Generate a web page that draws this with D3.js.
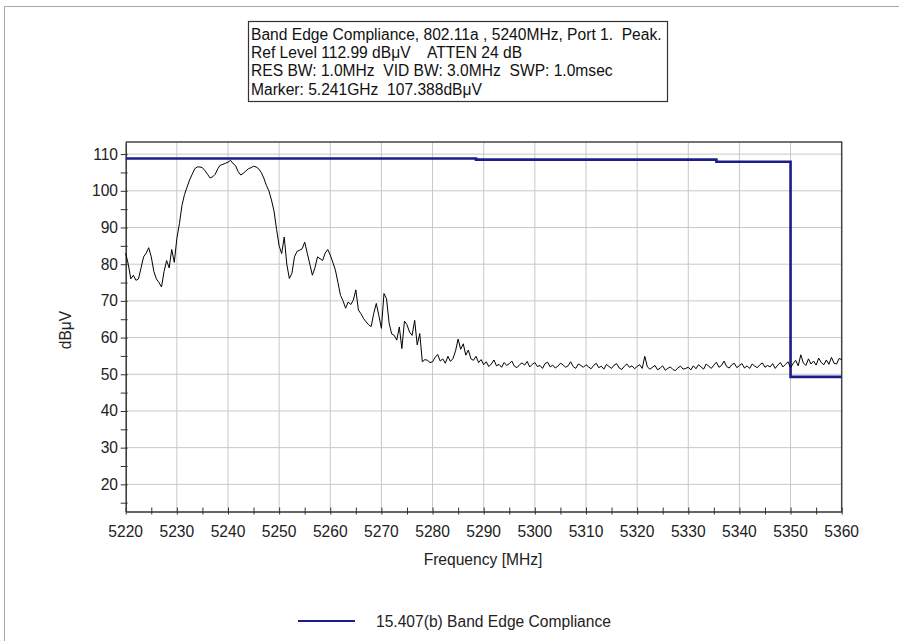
<!DOCTYPE html>
<html>
<head>
<meta charset="utf-8">
<script src="https://cdn.jsdelivr.net/npm/d3@7"></script>
<style>
  html, body { margin: 0; padding: 0; background: #fff; }
  svg { display: block; font-family: "Liberation Sans", Arial, sans-serif; }
  text { white-space: pre; }
</style>
</head>
<body>
<svg id="chart" width="899" height="641"></svg>
<script>
// ---- data ----
const titleLines = [
  "Band Edge Compliance, 802.11a , 5240MHz, Port 1.  Peak.",
  "Ref Level 112.99 dB\u03bcV    ATTEN 24 dB",
  "RES BW: 1.0MHz  VID BW: 3.0MHz  SWP: 1.0msec",
  "Marker: 5.241GHz  107.388dB\u03bcV"
];
const xTicks = [5220, 5230, 5240, 5250, 5260, 5270, 5280, 5290, 5300, 5310, 5320, 5330, 5340, 5350, 5360];
const yTicks = [20, 30, 40, 50, 60, 70, 80, 90, 100, 110];
const traceStart = 5220;   // MHz
const traceStep = 0.5;     // MHz between samples
const traceLevels = [
  83, 80, 76, 77, 75.6, 76, 79, 82, 83, 84.5, 82, 78, 76, 75, 73.8, 78, 81, 79, 84, 80.5,
  87, 91, 96, 99, 101, 103, 104.5, 106, 106.5, 106.5, 106.3, 105.5, 104.5, 103.5, 103.8, 104.5, 106, 107, 107.2, 107.5,
  107.8, 108.3, 107.4, 106.8, 105.2, 104.3, 104.8, 105.4, 106, 106.3, 106.7, 106.5, 106, 105, 103.5, 101.5, 100, 97.5, 94.5, 89.5,
  85, 82.9, 87.4, 80, 76.1, 77.5, 82, 83.5, 83.8, 84.2, 86, 83, 80, 77, 79, 82, 81.5, 81, 83, 84,
  82.5, 80.5, 78.4, 75, 71.5, 70, 68, 69.7, 69, 70.2, 73, 67.5, 66.5, 65.2, 64.3, 63.5, 63, 66.6, 69.3, 66,
  62.5, 72, 70.6, 64, 61, 60.6, 59.3, 62.9, 57, 64.5, 63.5, 61.5, 60.6, 64.7, 58, 61.1, 53.4, 54, 53.8, 53.2,
  53.4, 54.6, 55.4, 53.6, 54.2, 53.0, 54.9, 53.5, 54.3, 56.4, 59.6, 56.8, 58.3, 55.2, 56.6, 54.2, 53.8, 54.9, 53.2, 54.0,
  52.6, 53.4, 52.1, 52.8, 53.9, 52.3, 52.7, 51.9, 53.2, 52.4, 52.9, 53.6, 52.2, 51.8, 52.6, 53.1, 52.5, 53.5, 52.0, 52.7,
  53.2, 52.1, 52.4, 51.6, 52.9, 53.3, 52.0, 52.5, 51.7, 52.2, 53.0, 52.6, 51.9, 52.3, 53.4, 52.1, 51.6, 52.8, 52.4, 51.9,
  52.6, 52.0, 51.5, 52.4, 53.0, 51.8, 52.2, 51.4, 52.7, 52.1, 51.6, 52.5, 52.9, 51.7, 51.3, 52.2, 52.8, 51.9, 52.3, 51.5,
  52.1, 52.6, 51.6, 54.9, 52.0, 51.4, 51.9, 52.4, 51.2, 51.7, 52.3, 51.1, 51.6, 52.0, 51.3, 51.0, 51.8, 52.2, 51.4, 51.6,
  51.9, 51.2, 52.3, 51.5, 52.6, 52.0, 51.4, 52.8, 52.2, 51.6, 52.5, 53.3, 51.9, 52.4, 53.6, 52.1, 51.7, 52.6, 53.0, 51.8,
  52.4, 52.9, 51.7, 52.3, 51.6, 52.8, 52.2, 51.8, 52.6, 53.1, 51.9, 52.4, 52.0, 52.9, 51.6, 52.5, 53.2, 52.0, 52.7, 53.4,
  51.8, 52.9, 53.8, 52.3, 55.3, 53.1, 52.4, 54.2, 52.8, 53.6, 52.5, 54.4, 53.2, 52.6, 53.9, 52.7, 54.6, 53.0, 52.8, 54.3,
  54.0
];
const limitFreqs = [5220, 5288.5, 5335.5, 5350, 5360];
const limitLevels = [108.8, 108.5, 107.9, 49.3, 49.3];
const legendLabel = "15.407(b) Band Edge Compliance";
const xTitle = "Frequency [MHz]";
const yTitle = "dB\u03bcV";

// ---- layout ----
const svg = d3.select("#chart");
const plot = { left: 125.7, right: 841.7, top: 142, bottom: 511.5 };
const FS = 15.6;

const x = d3.scaleLinear().domain([5220, 5360]).range([plot.left, plot.right]);
const y = d3.scaleLinear().domain([12.6, 113.3]).range([plot.bottom, plot.top]);

// outer frame
svg.append("path")
  .attr("d", `M4.5,641 V6.5 H899`)
  .attr("fill", "none").attr("stroke", "#a8a8a8").attr("stroke-width", 1);

// title box
const tb = svg.append("g");
tb.append("rect").attr("x", 248.5).attr("y", 21.5).attr("width", 419).attr("height", 80)
  .attr("fill", "#fff").attr("stroke", "#333").attr("stroke-width", 1.2);
titleLines.forEach((t, i) => {
  tb.append("text").attr("x", 251).attr("y", 39.5 + i * 18.4)
    .attr("font-size", FS).attr("fill", "#111").attr("xml:space", "preserve").text(t);
});

// grid
const g = svg.append("g");
g.selectAll("line.vg").data(xTicks.filter(d => d > 5220 && d < 5360)).join("line")
  .attr("x1", d => x(d)).attr("x2", d => x(d))
  .attr("y1", plot.top).attr("y2", plot.bottom)
  .attr("stroke", "#c8c8c8").attr("stroke-width", 1);
g.selectAll("line.hg").data(yTicks).join("line")
  .attr("y1", d => y(d)).attr("y2", d => y(d))
  .attr("x1", plot.left).attr("x2", plot.right)
  .attr("stroke", "#c8c8c8").attr("stroke-width", 1);

// plot border top/right
svg.append("path")
  .attr("d", `M${plot.left},${plot.top} H${plot.right} V${plot.bottom}`)
  .attr("fill", "none").attr("stroke", "#444").attr("stroke-width", 1.5);

// axes
const xAxis = d3.axisBottom(x).tickValues(d3.range(5220, 5360.1, 5)).tickSize(0).tickFormat("");
const yAxis = d3.axisLeft(y).tickValues(d3.range(15, 113, 5)).tickSize(0).tickFormat("");
const xa = svg.append("g").attr("transform", `translate(0,${plot.bottom})`).call(xAxis);
const ya = svg.append("g").attr("transform", `translate(${plot.left},0)`).call(yAxis);
[xa, ya].forEach(a => a.select(".domain").attr("stroke", "#333").attr("stroke-width", 1.5));
// crossing ticks
xa.selectAll(".tick line").attr("y1", -4).attr("y2", 3).attr("stroke", "#333");
ya.selectAll(".tick line").attr("x1", -5).attr("x2", 2).attr("stroke", "#333");

// tick labels
svg.append("g").selectAll("text").data(xTicks).join("text")
  .attr("x", d => x(d)).attr("y", 537)
  .attr("text-anchor", "middle").attr("font-size", FS).attr("fill", "#222")
  .text(d => d);
svg.append("g").selectAll("text").data(yTicks).join("text")
  .attr("x", 118).attr("y", d => y(d) + 5.5)
  .attr("text-anchor", "end").attr("font-size", FS).attr("fill", "#222")
  .text(d => d);

// axis titles
svg.append("text").attr("x", 483).attr("y", 565).attr("text-anchor", "middle")
  .attr("font-size", FS).attr("fill", "#222").text(xTitle);
svg.append("text").attr("transform", "translate(71,330) rotate(-90)").attr("text-anchor", "middle")
  .attr("font-size", FS).attr("fill", "#222").text(yTitle);

// limit line
const limitData = limitFreqs.map((f, i) => [f, limitLevels[i]]);
svg.append("path").datum(limitData)
  .attr("d", d3.line().x(d => x(d[0])).y(d => y(d[1])).curve(d3.curveStepAfter))
  .attr("fill", "none").attr("stroke", "#1c1c8c").attr("stroke-width", 2.6);

// trace
const traceData = traceLevels.map((v, i) => [traceStart + i * traceStep, v]);
svg.append("path").datum(traceData)
  .attr("d", d3.line().x(d => x(d[0])).y(d => y(d[1])))
  .attr("fill", "none").attr("stroke", "#000").attr("stroke-width", 1);

// legend
svg.append("line").attr("x1", 298).attr("x2", 355).attr("y1", 621).attr("y2", 621)
  .attr("stroke", "#1c1c8c").attr("stroke-width", 2.2);
svg.append("text").attr("x", 376).attr("y", 626.5).attr("font-size", FS).attr("fill", "#222")
  .text(legendLabel);
</script>
</body>
</html>
